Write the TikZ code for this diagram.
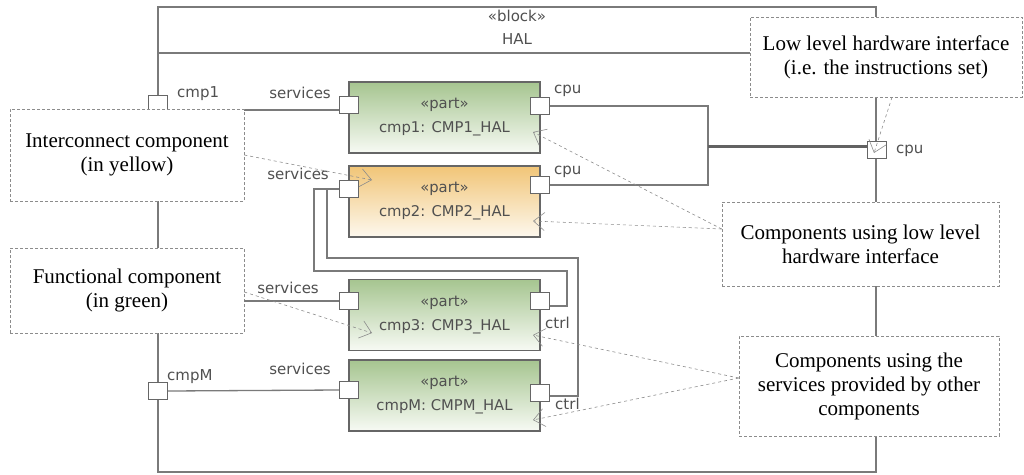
\documentclass[tikz,border=0pt]{standalone}
\usepackage{fontspec}
\setmainfont{Liberation Serif}
\newfontfamily\dv{DejaVu Sans}
\usetikzlibrary{arrows.meta}
\definecolor{frm}{HTML}{7A7A7A}
\definecolor{bord}{HTML}{666666}
\definecolor{lbltxt}{HTML}{505050}
\definecolor{gtop}{HTML}{A6C590}
\definecolor{gbot}{HTML}{F7FAF4}
\definecolor{otop}{HTML}{F1C577}
\definecolor{obot}{HTML}{FDF8EE}
\definecolor{dsh}{HTML}{8C8C8C}
\tikzset{
  frameline/.style={draw=frm, line width=1.4pt},
  conn/.style={draw=frm, line width=1.3pt},
  thickconn/.style={draw=frm!80!black, line width=3pt},
  partbox/.style={draw=bord, line width=1.4pt, minimum width=191pt, minimum height=71pt,
    align=center, font=\dv\fontsize{14.8}{24}\selectfont, text=lbltxt, inner sep=0pt},
  greenpart/.style={partbox, top color=gtop, bottom color=gbot},
  orangepart/.style={partbox, top color=otop, bottom color=obot},
  port/.style={draw=bord, fill=white, line width=1.2pt, minimum width=19pt, minimum height=17pt, inner sep=0pt},
  lbl/.style={font=\dv\fontsize{15}{17}\selectfont, text=lbltxt, inner sep=0pt},
  callout/.style={draw=dsh, densely dashed, line width=0.6pt, fill=white, align=center,
    font=\fontsize{21}{24}\selectfont, inner sep=0pt},
  callarrow/.style={draw=dsh, dashed, line width=0.6pt,
    -{Straight Barb[length=11pt, width=18pt, line width=0.6pt]}},
}
\begin{document}
\begin{tikzpicture}[x=1pt, y=-1pt]
\useasboundingbox[fill=white] (0,0) rectangle (1024,474);

% outer block frame
\draw[frameline] (158,7) rectangle (876,472);
\draw[frameline] (158,53) -- (876,53);
\node[lbl] (stereo) at (517,16) {«block»};
\node[lbl] (hal) at (517,39) {HAL};

% parts
\node[greenpart] (p1) at (444.5,117.5) {«part»\\cmp1: CMP1\_HAL};
\node[orangepart] (p2) at (444.5,201.5) {«part»\\cmp2: CMP2\_HAL};
\node[greenpart] (p3) at (444.5,315) {«part»\\cmp3: CMP3\_HAL};
\node[greenpart] (pM) at (444.5,395.5) {«part»\\cmpM: CMPM\_HAL};

% connector coordinates
\coordinate (jn) at (708,146);
\coordinate (a1) at (314,271);
\coordinate (a2) at (567,306);
\coordinate (b1) at (327,258);
\coordinate (b2) at (578,396);

% ports on frame
\node[port] (cmp1port) at (158,104) {};
\node[port] (cmpMport) at (158,391) {};
\node[port] (cpuport) at (877,150) {};

% ports on parts
\node[port] (p1s) at (349,105) {};
\node[port] (p1c) at (540,106) {};
\node[port] (p2s) at (349,189) {};
\node[port] (p2c) at (540,185) {};
\node[port] (p3s) at (349,301) {};
\node[port] (p3c) at (540,301) {};
\node[port] (pMs) at (349,390) {};
\node[port] (pMc) at (540,393) {};

% connectors
\draw[conn] ([yshift=-6pt]cmp1port.east) -- ([yshift=-5pt]p1s.west);
\draw[conn] (cmpMport.east) -- (pMs.west);
\draw[conn] (p1c.east) -| (jn) |- (p2c.east);
\draw[thickconn] (jn) -- (cpuport.west |- jn);
\draw[conn] (p2s.west) -| (a1) -| (a2) -- (p3c.east |- a2);
\draw[conn] (p2s.west) -| (b1) -| (b2) -- (pMc.east |- b2);

% redraw ports on top of connectors
\foreach \p in {cmp1port,cmpMport,cpuport,p1s,p1c,p2s,p2c,p3s,p3c,pMs,pMc}
  \node[port] at (\p) {};

% port labels
\node[lbl, anchor=west] (lcmp1) at (177,94) {cmp1};
\node[lbl, anchor=east] (l1s) at (331,93) {services};
\node[lbl, anchor=west] (l1c) at (554,91) {cpu};
\node[lbl, anchor=east] (l2s) at (329,174) {services};
\node[lbl, anchor=west] (l2c) at (554,172) {cpu};
\node[lbl, anchor=east] (l3s) at (319,288) {services};
\node[lbl, anchor=west] (l3c) at (545,323) {ctrl};
\node[lbl, anchor=east] (lMs) at (331,369) {services};
\node[lbl, anchor=west] (lMc) at (555,404) {ctrl};
\node[lbl, anchor=west] (lcmpM) at (167,377) {cmpM};
\node[lbl, anchor=west] (lcpu) at (896,151) {cpu};

% callouts
\node[callout, minimum width=234pt, minimum height=92pt] (inter) at (127,155)
  {Interconnect component\\(in yellow)};
\node[callout, minimum width=234pt, minimum height=85pt] (func) at (127,290.5)
  {Functional component\\(in green)};
\node[callout, minimum width=272pt, minimum height=80pt] (llhw) at (886,57)
  {Low level hardware interface\\(i.e. the instructions set)};
\node[callout, minimum width=277pt, minimum height=84pt] (clow) at (860.5,244)
  {Components using low level\\hardware interface};
\node[callout, minimum width=260pt, minimum height=100pt] (csvc) at (869,386)
  {Components using the\\services provided by other\\components};

% services line of cmp3 emerging from behind the callout
\draw[conn] (func.east |- p3s) -- (p3s.west);
\node[port] at (p3s) {};

% callout pointers
\coordinate (t2) at (372,180);
\coordinate (t3) at (372,333);
\coordinate (tcpu) at (874,153);
\coordinate (tc1) at (533,132);
\coordinate (tc2) at (533,221);
\coordinate (tc3) at (533,335);
\coordinate (tcM) at (533,420);
\draw[callarrow] (inter.east |- 0,155) -- (t2);
\draw[callarrow] (func.east |- 0,292) -- (t3);
\draw[callarrow] ([xshift=6pt]llhw.south) -- (tcpu);
\draw[callarrow] (clow.west |- 0,229) -- (tc1);
\draw[callarrow] (clow.west |- 0,229) -- (tc2);
\draw[callarrow] (csvc.west |- 0,378) -- (tc3);
\draw[callarrow] (csvc.west |- 0,378) -- (tcM);
\end{tikzpicture}
\end{document}
